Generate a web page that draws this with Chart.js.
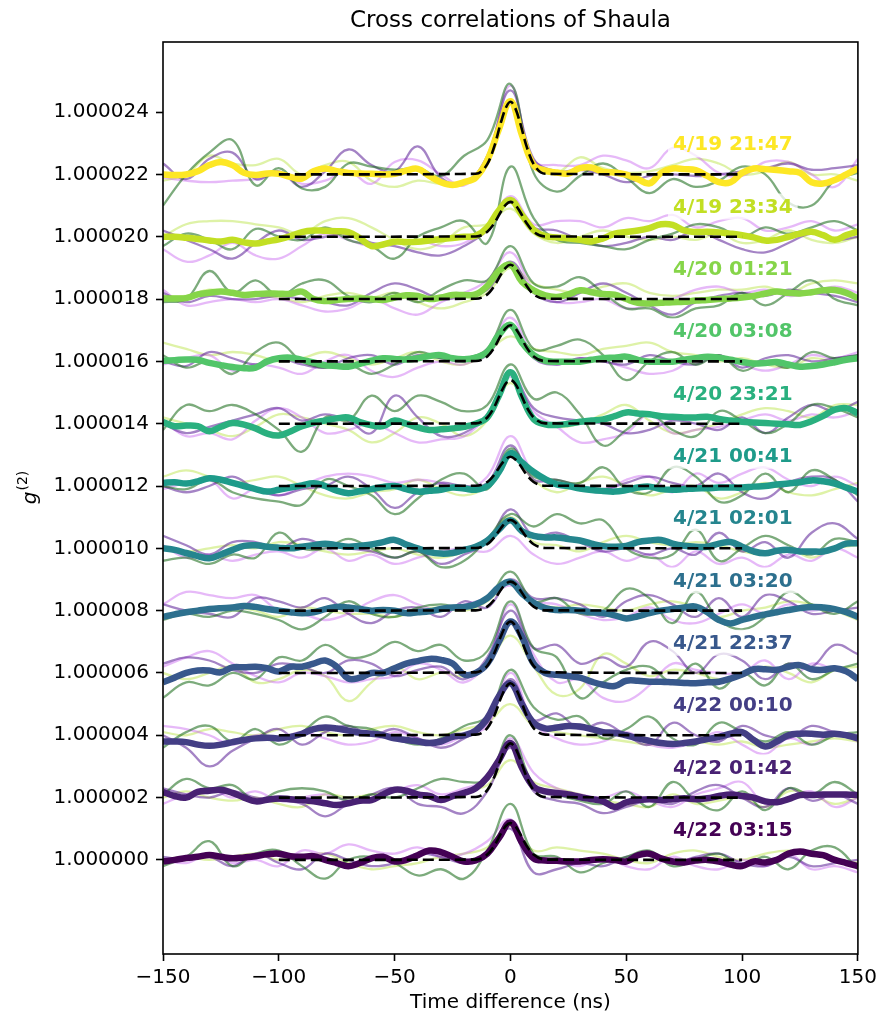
<!DOCTYPE html>
<html>
<head>
<meta charset="utf-8">
<script src="https://cdn.jsdelivr.net/npm/chart.js@4.4.1/dist/chart.umd.min.js"></script>
<style>
  html, body { margin: 0; padding: 0; background: #fff; }
  #wrap { width: 882px; height: 1016px; }
</style>
</head>
<body>
<div id="wrap"><canvas id="chart" width="882" height="1016"></canvas></div>
<script>
/* ============================================================
   Cross correlations of Shaula - g2 per observing night
   values are (g2 - 1) in units of 1e-6, relative to each
   curve's own baseline; groups listed bottom -> top
   ============================================================ */

const chartTitle = "Cross correlations of Shaula";
const xTitle     = "Time difference (ns)";

const groupLabels  = ["4/22 03:15","4/22 01:42","4/22 00:10","4/21 22:37","4/21 03:20","4/21 02:01",
                      "4/21 00:41","4/20 23:21","4/20 03:08","4/20 01:21","4/19 23:34","4/19 21:47"];
const groupOffsets = [0,2,4,6,8,10,12,14,16,18,20,22];
const groupColors  = ["#440154","#482173","#433e85","#38588c","#2d708e","#25858e",
                      "#1e9b8a","#2ab07f","#52c569","#86d549","#c2df23","#fde725"];

const xTickValues = [-150,-100,-50,0,50,100,150];
const xTickLabels = ["\u2212150","\u2212100","\u221250","0","50","100","150"];
const yTickValues = [0,2,4,6,8,10,12,14,16,18,20,22,24];
const yTickLabels = ["1.000000","1.000002","1.000004","1.000006","1.000008","1.000010","1.000012",
                     "1.000014","1.000016","1.000018","1.000020","1.000022","1.000024"];

/* time axes (ns) */
const xFine = [-150,-145,-140,-135,-130,-125,-120,-115,-110,-105,-100,-95,-90,-85,-80,-75,-70,-65,-60,-55,
               -50,-45,-40,-35,-30,-25,-20,-15,-10,-5,0,5,10,15,20,25,30,35,40,45,50,55,60,65,70,75,80,85,
               90,95,100,105,110,115,120,125,130,135,140,145,150];
const xCoarse = [-150,-140,-130,-120,-110,-100,-90,-80,-70,-60,-50,-40,-30,-20,-10,0,
                 10,20,30,40,50,60,70,80,90,100,110,120,130,140,150];
const fitX = [-100,-15,-10,-7,-4,-2,0,2,4,7,10,15,100];

/* thick smoothed curve per night (xFine) */
const thickData = [
  [-0.05,0,0.06,0.1,0.16,0.1,0.05,0.08,0.12,0.18, 0.2,0.12,0.1,0.12,0,-0.1,-0.2,-0.1,0.05,0.1,
   -0.05,0,0.15,0.3,0.25,0.1,-0.05,-0.02,0.2,0.7, 1.2,
   0.55,0.05,-0.02,-0.03,-0.05,-0.05,0,0.02,0,-0.05, 0.15,0.2,0.05,-0.05,-0.08,-0.02,0,-0.05,-0.15,-0.2,
   -0.05,-0.08,0,0.2,0.27,0.2,0.15,0,-0.1,-0.2],
  [0.18,0.05,0,0.18,0.22,0.25,0.15,0,-0.12,-0.07, -0.03,-0.05,-0.08,-0.12,-0.18,-0.24,-0.18,-0.1,-0.08,0.1,
   0.25,0.22,0.1,0.05,-0.08,0.05,0.15,0.3,0.65,1.2, 1.75,
   0.95,0.35,0.2,0.15,0.1,0.02,-0.05,-0.12,-0.3,-0.15, -0.08,-0.05,-0.08,-0.05,-0.02,-0.05,-0.02,0.05,0.1,0.05,
   0,-0.12,-0.15,-0.05,0.08,0.08,0.1,0.1,0.1,0.08],
  [-0.2,-0.2,-0.22,-0.3,-0.34,-0.3,-0.22,-0.15,-0.1,-0.08, -0.1,-0.05,0.05,0.2,0.25,0.22,0.15,0.08,0.05,0,
   -0.1,-0.15,-0.2,-0.25,-0.2,-0.05,0,0.15,0.55,1.25, 1.67,
   1.0,0.4,0.22,0.25,0.3,0.28,0.2,0.1,0.08,0, -0.1,-0.18,-0.25,-0.28,-0.25,-0.2,-0.12,-0.05,0.05,0.1,
   -0.15,-0.36,-0.2,0,0.05,0.05,0.02,0.05,0,-0.1],
  [-0.3,-0.15,0,0.08,0.08,0.02,0.18,0.18,0.2,0.15, 0.05,0.2,0.2,0.3,0.4,0.2,-0.18,-0.15,0,0,
   0.15,0.3,0.38,0.45,0.42,0.3,-0.05,0,0.3,1.0, 1.65,
   1.15,0.3,0,-0.06,-0.1,-0.15,-0.28,-0.38,-0.42,-0.25, -0.25,-0.28,-0.28,-0.3,-0.32,-0.33,-0.3,-0.28,-0.18,-0.05,
   0.12,0.12,0.1,0.2,0.25,0.12,0.1,0.15,0.05,-0.2],
  [-0.2,-0.12,-0.05,0,0.05,0.08,0.1,0.15,0.12,0.05, 0,-0.05,-0.08,-0.05,0.05,0.12,0.1,0.05,0,0.02,
   0,-0.08,-0.05,-0.02,0.05,0.1,0.12,0.2,0.4,0.75, 0.92,
   0.55,0.25,0.08,0.02,0.02,0,-0.05,-0.08,-0.15,-0.25, -0.18,-0.08,0,0.05,0.1,0.13,-0.05,-0.3,-0.41,-0.3,
   -0.2,-0.12,-0.05,0.02,0.08,0.12,0.1,0.05,-0.05,-0.2],
  [0,-0.05,-0.15,-0.25,-0.32,-0.2,-0.05,0.08,0.1,0.05, 0.02,0,0.05,0.1,0.15,0.1,0.05,0.08,0.12,0.2,
   0.27,0.12,0,-0.12,-0.17,-0.15,-0.05,0.05,0.25,0.6, 0.9,
   0.55,0.4,0.35,0.35,0.3,0.25,0.15,0.07,0.05,0.08, 0.2,0.25,0.27,0.15,0.08,0.05,0.05,0.15,0.2,0.05,
   -0.1,-0.16,-0.08,-0.05,-0.1,-0.1,-0.1,0,0.15,0.16],
  [0.1,0.12,0.08,0.15,0.25,0.2,0.1,0,-0.1,-0.18, -0.12,-0.05,0.02,0.09,0,-0.15,-0.23,-0.17,-0.1,-0.03,
   0,-0.1,-0.18,-0.15,-0.12,-0.05,-0.08,-0.12,0,0.45, 1.05,
   0.75,0.45,0.22,0.05,0,-0.08,-0.13,-0.16,-0.18,-0.13, -0.05,-0.02,-0.1,-0.12,-0.1,-0.08,-0.07,-0.05,-0.05,-0.05,
   -0.02,0,0.05,0.08,0.12,0.18,0.15,0.08,-0.05,-0.18],
  [0.05,-0.08,-0.06,-0.08,-0.24,-0.1,0.02,-0.03,-0.15,-0.32, -0.38,-0.25,-0.08,0.03,0.1,0.17,0.2,0.05,-0.05,-0.08,
   0.1,0,-0.12,-0.2,-0.18,-0.15,-0.1,0,0.2,0.9, 1.65,
   0.85,0.15,-0.02,-0.04,0,0.06,0.1,0.14,0.24,0.36, 0.33,0.3,0.24,0.22,0.2,0.2,0.22,0.15,0.1,0.06,
   0.04,0.02,0,-0.02,-0.04,0.08,0.25,0.45,0.5,0.33],
  [0.02,0.04,0.06,0.05,-0.05,-0.12,-0.18,-0.22,-0.2,0, 0.1,0.12,0.05,-0.03,-0.12,-0.15,-0.17,-0.08,0.02,0.1,
   0.08,0.06,0.1,0.17,0.2,0.1,0.07,0.12,0.3,0.85, 1.17,
   0.6,0.2,0.02,-0.01,-0.01,-0.01,0.05,0.1,0.12,0.15, 0.05,-0.01,-0.01,-0.01,0.05,0.1,0.15,0.12,0.05,-0.02,
   -0.07,-0.05,-0.02,-0.1,-0.17,-0.15,-0.1,-0.03,0.05,0.1],
  [0.02,0.02,0.03,0.15,0.2,0.24,0.2,0.13,0.16,0.18, 0.17,0.17,0.24,0,-0.06,-0.03,0,0.02,0,-0.03,
   0.05,0.12,0.1,0,0.05,0.13,0.13,0.15,0.42,0.9, 1.1,
   0.55,0.28,0.12,0.07,0.15,0.28,0.22,0.16,0.14,0, -0.12,-0.14,-0.12,-0.1,-0.09,-0.05,-0.03,0,0.02,0.05,
   0.1,0.18,0.24,0.2,0.18,0.22,0.28,0.29,0.2,0.02],
  [0,0,-0.03,-0.07,-0.12,-0.15,-0.1,-0.18,-0.22,-0.15, -0.08,0.02,0.15,0.2,0.19,0.18,0.15,-0.05,-0.3,-0.25,
   -0.16,-0.17,-0.16,-0.12,-0.08,-0.04,0,0.03,0.3,0.85, 1.18,
   0.7,0.22,0.02,-0.02,-0.05,-0.1,-0.15,-0.05,0.1,0.15, 0.2,0.28,0.4,0.38,0.2,0.15,0.16,0.14,0.1,0.05,
   -0.02,-0.12,-0.1,0,0.1,0.16,0.05,-0.1,0.05,0.16],
  [0,-0.02,0,0.1,0.3,0.4,0.3,0.05,-0.02,0.03, 0.02,-0.08,-0.13,0.1,0.19,0.1,0.05,0.03,0.02,0,
   0.02,0.12,0.18,-0.05,-0.25,-0.34,-0.25,-0.1,0.45,1.45, 2.35,
   1.25,0.3,0.12,0.06,0.03,0.2,0.22,0.08,0.06,-0.01, -0.15,-0.29,0.05,0.19,0.17,0.14,-0.05,-0.25,-0.25,0.05,
   0.19,0.17,0.14,0.1,0.05,-0.25,-0.29,-0.18,0,0.19]
];

/* thin single-channel curves (xCoarse) */
const greenData = [
  [-0.2,0.1,0.6,-0.2,0.2,0.3,-0.2,-0.6,0,0.1,-0.1,-0.5,-0.3,-0.6,0.3, 1.8, 0.2,0.1,-0.4,-0.1,0.1,0.3,-0.2,0,0.2,-0.2,0.1,-0.3,0.3,0.4,-0.3],
  [0.1,0.6,0.3,0.4,-0.1,0.2,0.3,0.2,-0.1,0.1,0,0.3,0.6,0.5,0.6, 2.0, 0.4,0.1,-0.1,-0.2,0.2,-0.3,0.5,-0.1,-0.4,0.2,-0.4,0.3,0.1,0.5,0.1],
  [-0.4,0.1,0.3,-0.2,0.2,-0.3,0.1,0.6,0.3,0.2,-0.1,-0.3,-0.1,0.3,0.6, 2.1, 0.9,0.5,0.6,-0.1,0.2,0.6,-0.1,-0.3,0.4,0.1,-0.2,0.1,-0.3,0,0.1],
  [-0.8,-0.3,-0.4,0,-0.2,0.5,0.4,0.9,0.5,0.6,1.0,0.7,0.9,0.4,0.7, 2.3, 0.8,0.5,-0.8,-0.3,0.1,0.2,-0.3,0.3,-0.5,0,-0.4,0.3,-0.2,0.1,0.3],
  [-0.3,-0.1,-0.2,0,-0.1,-0.3,-0.6,-0.2,0.3,-0.1,-0.2,0.1,0.2,0.1,0.4, 1.25, 0.3,0.4,-0.1,0,0.7,0.4,-0.4,0.6,-0.3,-0.6,-0.2,0.6,0.2,-0.1,0.3],
  [-0.4,-0.3,-0.5,-0.2,-0.3,0.5,0,0,0.3,0,-0.3,-0.1,-0.6,-0.4,0.3, 1.1, 0.7,1.1,0.8,0.9,0,-0.3,-0.2,0.6,-0.4,0,0.4,0.1,-0.2,0.3,0.2],
  [0,-0.1,0.2,-0.2,-0.4,-0.5,-0.6,0.2,0,-0.3,-0.9,-0.4,0.2,0.4,-0.1, 1.2, 0.3,0.2,0.1,0.6,-0.1,-0.2,0.6,0.3,-0.5,-0.3,0.4,-0.2,0.5,0.2,-0.3],
  [-0.2,0.6,0.4,0.6,0.3,-0.2,-0.9,0.2,0.1,0.9,0.4,0.9,0.7,0.4,0.6, 1.9, 0.8,1.0,0.3,-0.7,-0.2,0.3,-0.2,-0.4,0.4,0.1,-0.3,0,0.6,0.5,0.2],
  [0.2,-0.2,0,-0.4,0.3,0.6,0,-0.2,-0.1,-0.4,-0.1,0.3,0.1,0.1,0.4, 1.65, 0.4,0.5,0.7,0.2,-0.6,0,0.3,-0.1,0.2,-0.3,0,-0.2,0.3,0.1,0.2],
  [-0.1,0,0.9,0.2,0.6,0.1,0.5,0.6,0.1,-0.1,0.2,-0.1,0.3,0.6,0.6, 1.7, 0.5,0.4,0.7,0.2,-0.3,-0.3,-0.6,-0.3,-0.2,0.2,-0.2,0.2,0.6,0,-0.2],
  [-0.3,0.1,-0.1,-0.4,0.25,0,-0.1,0.3,-0.1,-0.3,-0.7,0,0.3,0.5,-0.2, 2.25, 0.6,-0.1,-0.2,-0.3,-0.4,-0.1,0.1,0.4,0.3,0,0.3,0.1,0.3,0.5,0.2],
  [-1.0,0,0.7,1.1,-0.35,0.2,-0.45,-0.4,0.35,0.25,0.15,0.2,-0.05,0.6,1.1, 2.9, 0.05,-0.55,-0.05,0.35,-0.1,-0.6,-0.15,-0.4,-0.2,0.25,0,-0.9,-1.0,-0.2,0.05]
];
const purpleData = [
  [0.1,0,0.1,-0.2,0.2,-0.1,-0.3,0.2,0,-0.2,-0.1,0.2,0.1,-0.1,0.2, 1.0, -0.4,-0.3,-0.1,-0.2,0.1,0.2,-0.1,0.1,0.2,-0.1,-0.2,0.1,-0.2,-0.1,0],
  [0.3,0.1,0,0.2,0,-0.1,-0.2,-0.6,-0.2,0.1,0.3,-0.2,-0.3,-0.5,0.2, 1.6, 0.2,-0.1,-0.2,-0.5,-0.3,-0.1,-0.2,0.2,0.4,0,-0.3,0.3,-0.1,0.1,-0.2],
  [0,-0.4,-1.0,-0.5,-0.1,0.2,-0.3,0.1,0.3,0,0.2,-0.1,-0.4,-0.1,0.4, 1.8, 0.5,0.7,0.2,0.4,0,-0.3,0.4,0,-0.2,0.3,0,-0.1,0.3,0.1,0],
  [0.3,0.5,0.4,0.1,0,0.3,0.2,0,0.4,0.3,-0.1,0.1,0.2,-0.2,0.5, 2.0, 0.8,0.9,0.3,0.5,0.2,1.0,0.7,0,0.6,0.4,-0.2,0.3,0.2,0.9,0.6],
  [0.2,0,-0.1,-0.2,0.4,0.3,0.1,0.4,-0.1,-0.4,0,0.1,-0.2,0.3,0.1, 1.0, 0.4,0.4,0.2,-0.2,0.3,0.5,0.2,-0.2,0.4,-0.2,0.5,0.3,-0.1,0,0.1],
  [0.4,0.1,-0.2,0.2,0.2,0,0.3,0.1,0,-0.1,-0.3,-0.1,-0.5,-0.2,0.2, 1.25, 0.4,0.5,0.2,-0.1,0,-0.2,0,-0.2,0.5,-0.1,0.2,-0.3,0.5,0.8,0.3],
  [0,-0.2,0,0.3,-0.1,-0.3,-0.1,0,0.3,-0.1,-0.7,-0.2,0.1,0,0.1, 1.3, 0.2,0.2,0,-0.1,0.1,0.3,0.1,0,0.4,-0.2,-0.4,0.1,0.3,0.2,-0.5],
  [0,-0.3,-0.1,0.1,0.3,0.5,0.1,0.3,0.1,-0.3,0.9,0.2,-0.4,-0.3,0.3, 1.6, 0.5,0.2,0.1,0,-0.3,-0.2,0.1,0,-0.2,0.2,-0.3,0.2,0.6,0.4,0.7],
  [0,-0.15,0.3,0.1,-0.1,0.1,-0.1,-0.2,0.1,0.2,-0.1,0.2,0.1,0,0.2, 1.2, 0.1,-0.1,0.1,0,-0.1,0.2,0,-0.1,0.2,-0.2,0.1,0.2,0,0.1,0.2],
  [0.2,-0.1,0.1,0,0,0.1,0,-0.1,-0.2,0.2,0.5,0.3,0,0.1,0.3, 1.2, 0.2,-0.1,0.2,0.5,0.2,-0.2,-0.5,-0.1,0.1,0.2,0.1,0.3,0.2,0.1,-0.1],
  [0.2,-0.1,-0.4,-0.7,-0.2,0.2,-0.1,0,0.1,-0.2,-0.3,-0.5,-0.6,-0.3,0.2, 1.1, 0.3,0.2,-0.1,-0.3,-0.2,0,-0.1,0.2,-0.1,-0.4,-0.5,-0.2,0.1,-0.1,0],
  [0.35,-0.15,0.5,0.7,-0.15,0.1,-0.4,0.1,0.8,0.3,0.1,0.9,-0.1,-0.3,0.6, 2.7, 0.5,0.1,0.15,0,-0.25,-0.05,0,-0.05,0,0.1,0.2,0.35,0.15,0.2,0.3]
];
const pinkData = [
  [0,-0.1,0.2,-0.1,0,-0.2,0.3,0.2,0.5,0.3,0.2,0.4,0.1,0.2,0.6, 1.3, 0.1,0,-0.2,0.1,-0.2,-0.3,0.1,-0.2,-0.3,0,-0.2,0.2,-0.3,-0.2,-0.4],
  [-0.2,0.1,0.3,0,0.2,-0.1,0,0.1,-0.1,0,0.2,0.4,0.1,0.3,0.6, 1.9, 0.8,0.3,0.1,0,0.2,-0.1,-0.3,0.1,0.3,0.5,-0.2,0,0.2,-0.3,0],
  [0.3,0.2,0,-0.3,0,-0.1,0.1,-0.1,-0.3,-0.2,0.1,-0.1,-0.3,0,0.3, 2.0, 0.4,-0.1,-0.3,-0.2,0.1,-0.3,-0.4,-0.2,0.1,-0.3,-0.6,-0.1,-0.3,0.1,-0.2],
  [0.2,0.5,0.7,0.3,-0.1,-0.3,0,-0.1,-0.3,-0.2,-0.1,0.3,0.1,-0.3,0.4, 2.2, 0.6,-0.3,-0.2,-0.8,-0.9,-0.4,0.3,0.1,0,0,0.4,-0.2,0.3,0.1,-0.1],
  [0.2,0.6,0.5,0.4,0.5,0,-0.1,-0.3,-0.1,0.3,0.5,0.2,0,0.2,0.4, 0.8, 0.3,0.2,-0.1,-0.3,-0.2,0.1,-0.3,-0.4,-0.1,0.2,-0.1,0.2,0,0.1,-0.2],
  [0.1,-0.3,-0.2,-0.4,-0.2,-0.1,-0.3,0,-0.4,-0.2,-0.5,-0.3,-0.1,0,-0.1, 0.4, -0.2,-0.5,-0.3,-0.1,-0.4,-0.2,-0.6,-0.1,-0.5,-0.3,-0.6,-0.2,-0.4,0,-0.3],
  [-0.1,0.1,0.2,-0.4,-0.1,-0.3,0,0.3,0.4,0.3,0.1,0.2,0.1,-0.1,0.3, 1.6, 0.4,0,-0.1,-0.2,0.2,0.3,-0.2,0.4,0.1,0.4,0.6,0.2,0,0.3,0],
  [0.1,-0.4,-0.3,-0.5,0.1,0.5,0.2,-0.3,-0.2,0,-0.3,-0.6,-0.5,-0.4,0.3, 1.5, 0.4,-0.1,-0.6,-0.5,-0.3,0.3,-0.3,-0.2,-0.1,0.1,0.3,0.1,0.3,0.2,0.4],
  [-0.1,0.1,0.2,-0.3,-0.1,-0.2,-0.4,0,0.2,-0.3,-0.5,-0.2,0,-0.1,0.4, 1.4, 0.2,-0.1,0.1,0,-0.2,-0.4,-0.3,0.1,0.1,-0.1,-0.3,-0.1,0.2,0.1,0.3],
  [0.3,-0.2,-0.1,0,-0.1,0,-0.2,-0.4,-0.3,0,-0.3,-0.5,-0.1,0.2,0.6, 1.5, 0.3,-0.1,-0.1,0,-0.3,-0.2,0,0.3,0.4,0.2,0.3,0.1,0.2,0.4,0.2],
  [-0.4,-0.8,-0.6,-0.2,-0.6,-0.7,-0.3,0.1,-0.1,-0.3,-0.2,-0.1,-0.3,-0.2,0.3, 1.3, 0.4,0.5,0.5,0.3,0.6,0.5,0.7,0.3,0.5,0.6,0.2,0.3,0.5,0.2,0.4],
  [-0.1,-0.2,-0.25,-0.2,-0.15,0,-0.3,-0.2,0.1,-0.3,0.4,0.45,0,-0.35,0.5, 2.85, 0.45,0.3,0.3,0.6,0.45,0.2,0.85,0.6,0.05,-0.05,0.4,0.4,0,-0.4,0.5]
];
const yellowData = [
  [0,0.1,0,0.1,0.2,0,0.1,0.2,-0.1,-0.3,-0.2,-0.1,0.1,0.2,0.4, 1.1, 0.3,0.4,0.3,0.2,0,-0.1,0.2,0.3,0.1,0,0.2,0.3,0.2,0,-0.1],
  [0,0.2,0,-0.1,0,-0.2,-0.3,0.1,0,0.1,0.2,0.1,-0.1,0.2,0.4, 1.2, 0.5,0.3,0.1,-0.1,-0.2,-0.3,0.1,-0.2,-0.1,0,-0.3,0.2,0.1,-0.2,0],
  [0.1,0,0.2,0.1,0,0.2,0.3,0.1,0,0.2,0.3,0.1,0,0.2,0.4, 1.0, 0.3,0.1,0,-0.1,-0.2,-0.3,-0.3,-0.2,-0.3,-0.2,-0.4,-0.3,-0.2,-0.1,-0.2],
  [0,-0.2,0,0.2,-0.3,-0.2,0.1,-0.1,-0.9,-0.3,0.2,-0.2,0,-0.1,0.3, 1.2, 0.2,-0.7,-0.5,0.6,0.3,-0.1,0.1,0,-0.2,-0.1,0.2,0,-0.3,0.1,0.2],
  [-0.2,-0.1,0,0.1,0,-0.2,0.1,0,-0.1,-0.1,-0.2,0,0.1,0,0.3, 0.9, 0.3,0.1,0.2,0.1,0,0.2,0.3,0.1,-0.2,0,0.1,0.3,0.2,0,-0.3],
  [0,-0.1,0,0.1,0,0.2,0.1,-0.1,-0.2,-0.1,0,-0.2,-0.3,-0.1,0.3, 1.0, 0.2,0.1,-0.1,0.2,0.4,0.2,0.1,0.2,0.1,-0.1,-0.2,0,-0.3,0,0.1],
  [0.3,0.5,0.3,0.1,0.2,0.3,0,-0.3,-0.4,-0.2,-0.1,0.2,-0.1,-0.3,0, 1.0, 0.2,-0.2,0.1,0.3,0,-0.3,-0.1,0,-0.4,-0.2,0.1,-0.2,-0.3,-0.1,0.1],
  [0.2,0,-0.2,-0.4,-0.1,0.3,0.2,0,-0.2,-0.6,-0.3,0.2,0,-0.4,0.1, 1.3, 0.2,-0.1,0,0.3,0.6,0.1,-0.3,-0.2,0,0.3,0.5,0.4,0.2,0.6,0.6],
  [0.6,0.4,0.2,0.3,0.2,0,0.1,0.3,0.1,-0.1,0.1,0.3,0,-0.1,0.3, 0.8, 0.4,0.3,0.2,0.4,0.5,0.6,0.3,0.2,0,0.1,-0.1,-0.2,0.1,0,0.1],
  [0.1,0.1,0.3,0.2,0.1,0.05,-0.1,0.1,0.2,0.05,0.2,-0.1,-0.3,-0.1,0.2, 1.0, 0.5,0.3,0.2,0.4,0.5,0.2,0.1,0.2,0.3,0.3,0.4,0.2,0.5,0.6,0.5],
  [0,0.4,0.5,0.5,0.4,0.3,0.1,0.5,0.6,0.3,-0.1,-0.4,-0.2,0.3,0.4, 0.9, 0.1,-0.2,0,0.2,0,-0.1,0,-0.1,0.1,-0.2,-0.1,0.2,-0.1,-0.2,0],
  [-0.2,0,0.6,0.35,0.3,0.5,0,0.3,0.4,-0.2,-0.4,-0.2,-0.3,-0.25,0.5, 2.3, 0.25,0.05,0.55,0.2,0.05,0.1,0.3,0.5,0.35,0,0.1,0.4,0,0,-0.2]
];

/* gaussian fit per night (fitX) */
const fitData = [
  [0,0.01,0.17,0.45,0.86,1.09,1.18,1.09,0.86,0.45,0.17,0.01,0],
  [0,0.02,0.24,0.66,1.27,1.6,1.74,1.6,1.27,0.66,0.24,0.02,0],
  [0,0.02,0.23,0.63,1.22,1.54,1.67,1.54,1.22,0.63,0.23,0.02,0],
  [0,0.02,0.23,0.63,1.2,1.52,1.65,1.52,1.2,0.63,0.23,0.02,0],
  [0,0.01,0.13,0.35,0.68,0.86,0.93,0.86,0.68,0.35,0.13,0.01,0],
  [0,0.01,0.13,0.35,0.66,0.84,0.91,0.84,0.66,0.35,0.13,0.01,0],
  [0,0.01,0.13,0.36,0.69,0.86,0.94,0.86,0.69,0.36,0.13,0.01,0],
  [0,0.01,0.2,0.53,1.02,1.29,1.4,1.29,1.02,0.53,0.2,0.01,0],
  [0,0.01,0.16,0.44,0.85,1.07,1.16,1.07,0.85,0.44,0.16,0.01,0],
  [0,0.01,0.15,0.42,0.8,1.01,1.1,1.01,0.8,0.42,0.15,0.01,0],
  [0,0.01,0.16,0.43,0.82,1.03,1.12,1.03,0.82,0.43,0.16,0.01,0],
  [0,0.02,0.33,0.89,1.7,2.14,2.33,2.14,1.7,0.89,0.33,0.02,0]
];

const labelX = 96;        // ns, centre of the night labels
const labelRise = 0.97;   // label height above each baseline

/* ---------- Helpers ---------- */
const FONT = '"DejaVu Sans", "Liberation Sans", sans-serif';
const pts = (xs, vals, off) => xs.map((xv, k) => ({ x: xv, y: off + vals[k] }));

const thinStyles = [
  { src: greenData,  color: "rgba(30,110,30,0.58)" },
  { src: purpleData, color: "rgba(90,30,150,0.55)" },
  { src: pinkData,   color: "rgba(200,100,240,0.45)" },
  { src: yellowData, color: "rgba(190,230,80,0.5)" }
];

const datasets = [];
groupOffsets.forEach((off, i) => {
  thinStyles.forEach(s => {
    datasets.push({ data: pts(xCoarse, s.src[i], off), borderColor: s.color, borderWidth: 2.3,
      tension: 0.4, pointRadius: 0, order: 3, borderJoinStyle: "round" });
  });
  datasets.push({ data: pts(xFine, thickData[i], off), borderColor: groupColors[i], borderWidth: 6.5,
    tension: 0.4, pointRadius: 0, order: 2, borderJoinStyle: "round" });
  datasets.push({ data: pts(fitX, fitData[i], off), borderColor: "#000", borderWidth: 2.6,
    borderDash: [11, 5], cubicInterpolationMode: "monotone", pointRadius: 0, order: 1 });
});

/* ---------- Overlay: frame, labels, titles ---------- */
const overlay = {
  id: "overlay",
  afterDatasetsDraw(chart) {
    const { ctx, chartArea: a, scales: { x, y } } = chart;
    ctx.save();
    ctx.strokeStyle = "#000"; ctx.lineWidth = 1.6;
    ctx.strokeRect(a.left, a.top, a.right - a.left, a.bottom - a.top);

    ctx.font = "bold 20px " + FONT;
    ctx.textAlign = "center"; ctx.textBaseline = "middle";
    groupLabels.forEach((lab, i) => {
      const px = x.getPixelForValue(labelX);
      const py = y.getPixelForValue(groupOffsets[i] + labelRise);
      const w = ctx.measureText(lab).width;
      ctx.fillStyle = "rgba(255,255,255,0.75)";
      ctx.fillRect(px - w / 2 - 5, py - 13, w + 10, 26);
      ctx.fillStyle = groupColors[i];
      ctx.fillText(lab, px, py + 1);
    });
    ctx.restore();
  },
  afterDraw(chart) {
    const { ctx, chartArea: a } = chart;
    const cx = (a.left + a.right) / 2;
    ctx.save();
    ctx.fillStyle = "#000";
    ctx.textAlign = "center"; ctx.textBaseline = "middle";
    ctx.font = "23px " + FONT;
    ctx.fillText(chartTitle, cx, 21);
    ctx.font = "20px " + FONT;
    ctx.fillText(xTitle, cx, 1003);

    // y label: g^(2), rotated
    ctx.translate(36, 488);
    ctx.rotate(-Math.PI / 2);
    ctx.textAlign = "left"; ctx.textBaseline = "alphabetic";
    ctx.font = "italic 20px " + FONT;
    const gw = ctx.measureText("g").width;
    ctx.font = "14px " + FONT;
    const sw = ctx.measureText("(2)").width;
    const start = -(gw + sw) / 2;
    ctx.font = "italic 20px " + FONT;
    ctx.fillText("g", start, 0);
    ctx.font = "14px " + FONT;
    ctx.fillText("(2)", start + gw + 1, -9);
    ctx.restore();
  }
};

/* ---------- Chart ---------- */
new Chart(document.getElementById("chart"), {
  type: "line",
  data: { datasets },
  options: {
    responsive: false,
    animation: false,
    devicePixelRatio: 1,
    layout: { padding: { top: 42, right: 22, left: 0, bottom: 0 } },
    plugins: { legend: { display: false }, tooltip: { enabled: false }, title: { display: false } },
    scales: {
      x: {
        type: "linear", min: -150, max: 150,
        afterBuildTicks: s => { s.ticks = xTickValues.map(v => ({ value: v })); },
        afterFit: s => { s.height = 62; },
        ticks: { callback: v => xTickLabels[xTickValues.indexOf(v)], color: "#000",
                 font: { family: FONT, size: 20 }, padding: 5, maxRotation: 0, autoSkip: false },
        grid: { drawOnChartArea: false, drawTicks: true, tickLength: 7, tickWidth: 1.6, tickColor: "#000" },
        border: { display: false }
      },
      y: {
        type: "linear", min: -3.02, max: 26.25,
        afterBuildTicks: s => { s.ticks = yTickValues.map(v => ({ value: v })); },
        afterFit: s => { s.width = 163; },
        ticks: { callback: v => yTickLabels[yTickValues.indexOf(v)], color: "#000",
                 font: { family: FONT, size: 20 }, padding: 7, autoSkip: false },
        grid: { drawOnChartArea: false, drawTicks: true, tickLength: 7, tickWidth: 1.6, tickColor: "#000" },
        border: { display: false }
      }
    }
  },
  plugins: [overlay]
});
</script>
</body>
</html>
